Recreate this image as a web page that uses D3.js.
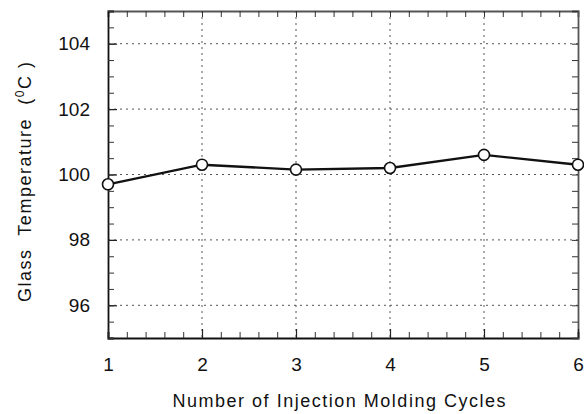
<!DOCTYPE html>
<html><head><meta charset="utf-8">
<script src="https://cdn.jsdelivr.net/npm/d3@7"></script>
<style>body{margin:0;background:#fff}</style>
</head><body>
<svg id="c" width="584" height="414"></svg>
<script>
const cycles = [1, 2, 3, 4, 5, 6];
const temps = [99.7, 100.3, 100.15, 100.2, 100.6, 100.3];
const yTicks = [96, 98, 100, 102, 104];
const xTicks = [1, 2, 3, 4, 5, 6];

const svg = d3.select("#c");
const L = 108, R = 578, T = 11, B = 338;
const x = d3.scaleLinear().domain([1, 6]).range([L, R]);
const y = d3.scaleLinear().domain([95, 105]).range([B, T]);
const font = "Liberation Sans, Arial, sans-serif";

// gridlines
const g = svg.append("g");
g.selectAll("line.hy").data(yTicks).join("line")
  .attr("x1", L).attr("x2", R).attr("y1", d => y(d)).attr("y2", d => y(d))
  .attr("stroke", "#555").attr("stroke-width", 1).attr("stroke-dasharray", "2,4");
g.selectAll("line.vx").data(xTicks.slice(1, -1)).join("line")
  .attr("y1", T).attr("y2", B).attr("x1", d => x(d)).attr("x2", d => x(d))
  .attr("stroke", "#555").attr("stroke-width", 1).attr("stroke-dasharray", "2,4");

// axes with inward ticks
const xMinor = d3.range(1, 6.001, 0.2).map(v => +v.toFixed(1));
const yMinor = d3.range(95, 105.001, 0.5);
const axB = d3.axisBottom(x).tickValues(xMinor).tickSize(-6).tickFormat("");
const axT = d3.axisTop(x).tickValues(xMinor).tickSize(-6).tickFormat("");
const axL = d3.axisLeft(y).tickValues(yMinor).tickSize(-6).tickFormat("");
const axR = d3.axisRight(y).tickValues(yMinor).tickSize(-6).tickFormat("");
[[axB, `translate(0,${B})`, "#111"], [axT, `translate(0,${T})`, "#555"], [axL, `translate(${L},0)`, "#111"], [axR, `translate(${R},0)`, "#555"]]
  .forEach(([a, t, c]) => {
    const gg = svg.append("g").attr("transform", t).call(a);
    gg.select(".domain").attr("stroke", c).attr("stroke-width", 1.8);
    gg.selectAll(".tick line").attr("stroke", "#333").attr("stroke-width", 1);
  });
// major ticks longer
svg.append("g").attr("transform", `translate(0,${B})`)
  .call(d3.axisBottom(x).tickValues(xTicks).tickSize(-9).tickPadding(20).tickFormat(d3.format("d")))
  .call(s => { s.select(".domain").remove(); s.selectAll("line").attr("stroke", "#222").attr("stroke-width", 1.2);
    s.selectAll("text").attr("font-family", font).attr("font-size", 19).attr("fill", "#111"); });
svg.append("g").attr("transform", `translate(${L},0)`)
  .call(d3.axisLeft(y).tickValues(yTicks).tickSize(-9).tickPadding(18).tickFormat(d3.format("d")))
  .call(s => { s.select(".domain").remove(); s.selectAll("line").attr("stroke", "#222").attr("stroke-width", 1.2);
    s.selectAll("text").attr("font-family", font).attr("font-size", 19).attr("fill", "#111"); });

// line
svg.append("path").datum(cycles.map((c, i) => [c, temps[i]]))
  .attr("d", d3.line().x(d => x(d[0])).y(d => y(d[1])))
  .attr("fill", "none").attr("stroke", "#111").attr("stroke-width", 2.4);
svg.selectAll("circle.pt").data(cycles.map((c, i) => [c, temps[i]])).join("circle")
  .attr("cx", d => x(d[0])).attr("cy", d => y(d[1])).attr("r", 5.5)
  .attr("fill", "#fff").attr("stroke", "#111").attr("stroke-width", 1.6);

// titles
svg.append("text").attr("x", 339).attr("y", 407).attr("text-anchor", "middle")
  .attr("font-family", font).attr("font-size", 18).attr("fill", "#111")
  .attr("textLength", 333).attr("lengthAdjust", "spacing")
  .text("Number of Injection Molding Cycles");
const yt = svg.append("text").attr("transform", "translate(31,182) rotate(-90)")
  .attr("text-anchor", "middle").attr("font-family", font).attr("font-size", 18).attr("fill", "#111")
  .attr("xml:space", "preserve").attr("textLength", 240).attr("lengthAdjust", "spacing");
yt.append("tspan").text("Glass  Temperature  (");
yt.append("tspan").attr("dy", -7).attr("font-size", 12).text("0");
yt.append("tspan").attr("dy", 7).text("C )");
</script>
</body></html>
